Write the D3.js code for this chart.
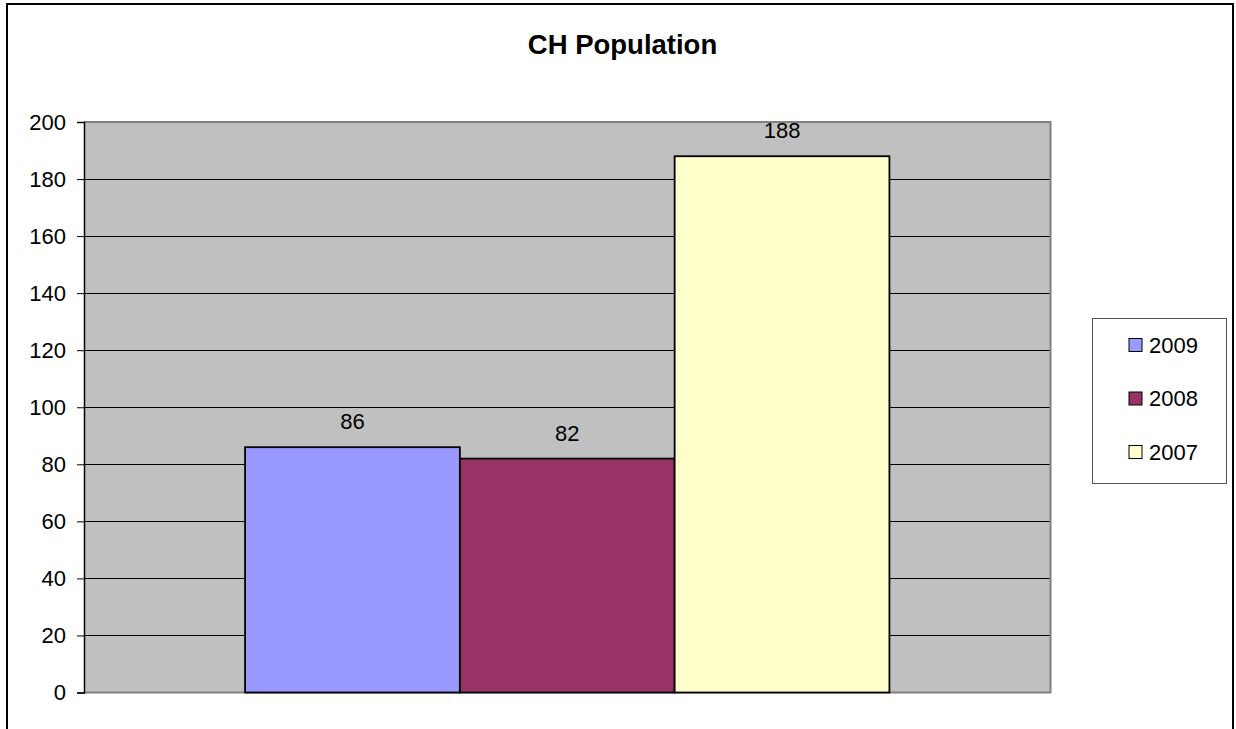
<!DOCTYPE html>
<html>
<head>
<meta charset="utf-8">
<script src="https://cdn.jsdelivr.net/npm/d3@7"></script>
<style>
  body { margin: 0; background: #fff; }
  svg { display: block; font-family: "Liberation Sans", Arial, sans-serif; }
</style>
</head>
<body>
<div id="chart"></div>
<script>
// Chart data
const categories = ["CH"];
const seriesNames = ["2009", "2008", "2007"];
const seriesValues = [86, 82, 188];
const seriesColors = ["#9999FF", "#993366", "#FFFFCC"];
const yTicks = [0, 20, 40, 60, 80, 100, 120, 140, 160, 180, 200];

const width = 1236;
const height = 729;
const plot = {left: 84, right: 1050.5, top: 122, bottom: 692.5};

const svg = d3.select("#chart")
  .append("svg")
  .attr("width", width)
  .attr("height", height);

// outer chart border (bottom edge runs off the page)
svg.append("rect")
  .attr("x", 7).attr("y", 4)
  .attr("width", 1226).attr("height", 780)
  .attr("fill", "#fff")
  .attr("stroke", "#000")
  .attr("stroke-width", 2);

// title
svg.append("text")
  .attr("x", 622.5).attr("y", 54)
  .attr("text-anchor", "middle")
  .attr("font-size", "27.5px")
  .attr("font-weight", "bold")
  .text("CH Population");

// scales
const yScale = d3.scaleLinear()
  .domain([0, 200])
  .range([plot.bottom, plot.top]);

const xScale = d3.scaleBand()
  .domain(categories)
  .range([plot.left, plot.right])
  .paddingInner(0)
  .paddingOuter(0.25);

const xSub = d3.scaleBand()
  .domain(seriesNames)
  .range([0, xScale.bandwidth()]);

// plot background
svg.append("rect")
  .attr("x", plot.left).attr("y", plot.top)
  .attr("width", plot.right - plot.left)
  .attr("height", plot.bottom - plot.top)
  .attr("fill", "#C0C0C0");

// gridlines
svg.append("g")
  .selectAll("line")
  .data(yTicks.filter(d => d > 0 && d < 200))
  .join("line")
  .attr("x1", plot.left).attr("x2", plot.right)
  .attr("y1", d => Math.round(yScale(d)) + 0.5)
  .attr("y2", d => Math.round(yScale(d)) + 0.5)
  .attr("stroke", "#000")
  .attr("stroke-width", 1);

// plot frame (top / right / bottom in grey)
svg.append("path")
  .attr("d", `M${plot.left},${plot.top}H${plot.right}V${plot.bottom}H${plot.left}`)
  .attr("fill", "none")
  .attr("stroke", "#808080")
  .attr("stroke-width", 2);

// bars
const g = svg.append("g").attr("transform", `translate(${xScale("CH")},0)`);
g.selectAll(".bar")
  .data(seriesValues)
  .join("rect")
  .attr("class", "bar")
  .attr("x", (d, i) => xSub(seriesNames[i]))
  .attr("y", d => yScale(d))
  .attr("width", xSub.bandwidth())
  .attr("height", d => plot.bottom - yScale(d))
  .attr("fill", (d, i) => seriesColors[i])
  .attr("stroke", "#000")
  .attr("stroke-width", 1.8);

// data labels
g.selectAll(".lbl")
  .data(seriesValues)
  .join("text")
  .attr("class", "lbl")
  .attr("x", (d, i) => xSub(seriesNames[i]) + xSub.bandwidth() / 2)
  .attr("y", d => yScale(d) - 18)
  .attr("text-anchor", "middle")
  .attr("font-size", "22px")
  .text(d => d);

// y axis
const yAxis = svg.append("g")
  .attr("transform", `translate(${plot.left},0)`)
  .call(d3.axisLeft(yScale).tickValues(yTicks).tickSize(7).tickPadding(11));
yAxis.select(".domain").attr("stroke", "#000").attr("stroke-width", 1.5);
yAxis.selectAll(".tick line").attr("stroke", "#000");
yAxis.selectAll(".tick text")
  .attr("font-size", "22px")
  .attr("font-family", "Liberation Sans, Arial, sans-serif")
  .attr("fill", "#000");

// legend
const legend = svg.append("g");
legend.append("rect")
  .attr("x", 1092.5).attr("y", 318.5)
  .attr("width", 134).attr("height", 165)
  .attr("fill", "#fff")
  .attr("stroke", "#555")
  .attr("stroke-width", 1);

const legendY = d3.scalePoint()
  .domain(seriesNames)
  .range([345, 452]);

const items = legend.selectAll(".item")
  .data(seriesNames)
  .join("g")
  .attr("class", "item")
  .attr("transform", d => `translate(1129,${legendY(d)})`);

items.append("rect")
  .attr("x", 0).attr("y", -6.5)
  .attr("width", 13).attr("height", 13)
  .attr("fill", (d, i) => seriesColors[i])
  .attr("stroke", "#000")
  .attr("stroke-width", 1);

items.append("text")
  .attr("x", 20).attr("y", 0)
  .attr("dy", "0.35em")
  .attr("font-size", "22px")
  .text(d => d);
</script>
</body>
</html>
